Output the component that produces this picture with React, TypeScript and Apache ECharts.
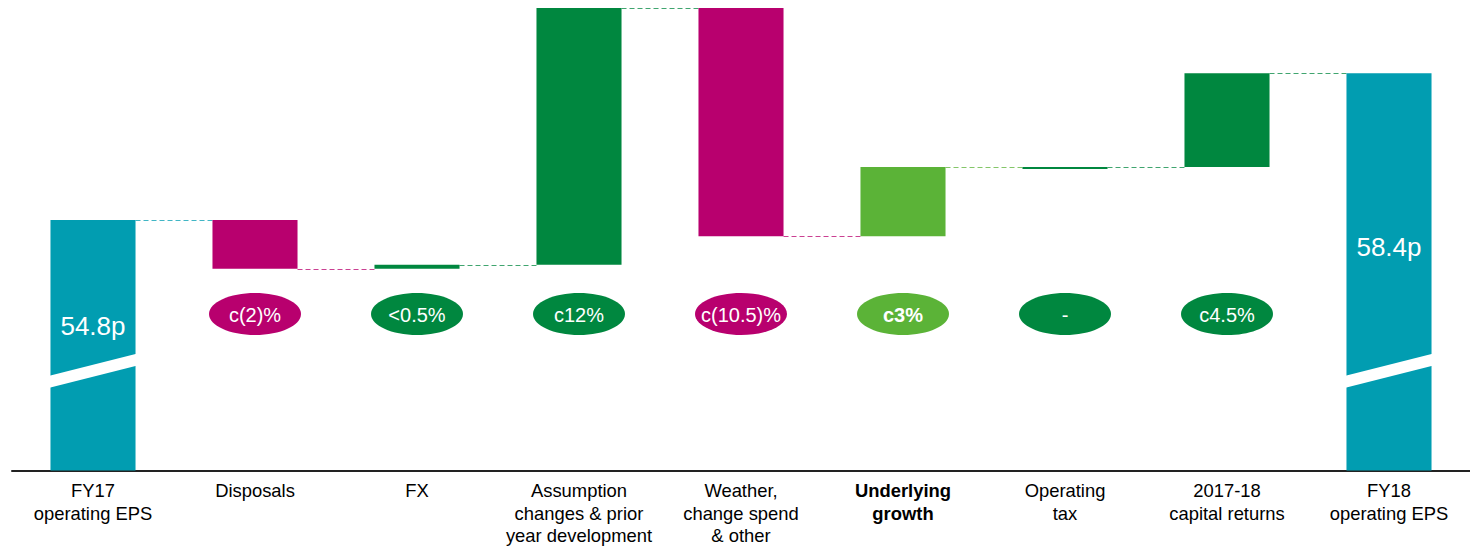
import React, { useEffect, useRef } from "react";
import * as echarts from "echarts";

// EPS bridge, FY17 -> FY18 (pence per share)
const categories = [
  "FY17\noperating EPS",
  "Disposals",
  "FX",
  "Assumption\nchanges & prior\nyear development",
  "Weather,\nchange spend\n& other",
  "Underlying\ngrowth",
  "Operating\ntax",
  "2017-18\ncapital returns",
  "FY18\noperating EPS",
];
const startEps = 54.8;
const endEps = 58.4;
const deltas = [-1.2, 0.1, 6.3, -5.6, 1.7, 0, 2.3];
const badgeLabels = ["c(2)%", "<0.5%", "c12%", "c(10.5)%", "c3%", "-", "c4.5%"];
const boldIndex = 5;

const TEAL = "#019DB1";
const MAGENTA = "#B8006E";
const GREEN = "#00873F";
const LIGHT_GREEN = "#5BB337";
const barColors = [TEAL, MAGENTA, GREEN, GREEN, MAGENTA, LIGHT_GREEN, GREEN, GREEN, TEAL];

// value axis window (the totals are drawn with a broken axis)
const AXIS_MIN = 48.65;
const AXIS_MAX = 60.0;
// diagonal break on the total bars: left / right centre values
const BREAK_LEFT = 50.83;
const BREAK_RIGHT = 51.37;

const SANS = "'Liberation Sans', Arial, sans-serif";

export default function App() {
  const ref = useRef<HTMLDivElement>(null);

  useEffect(() => {
    if (!ref.current) return;
    const chart = echarts.init(ref.current, undefined, { renderer: "svg" });

    // rows: [index, low, high, end level, isTotal]
    const rows: number[][] = [];
    rows.push([0, AXIS_MIN, startEps, startEps, 1]);
    let level = startEps;
    deltas.forEach((d, k) => {
      const next = +(level + d).toFixed(4);
      rows.push([k + 1, Math.min(level, next), Math.max(level, next), next, 0]);
      level = next;
    });
    rows.push([categories.length - 1, AXIS_MIN, endEps, endEps, 1]);

    const renderItem = (params: any, api: any) => {
      const i = api.value(0);
      const low = api.value(1);
      const high = api.value(2);
      const end = api.value(3);
      const isTotal = api.value(4) === 1;
      const color = barColors[i];
      const w = api.size([1, 0])[0] * 0.525;
      const top = api.coord([i, high]);
      const bottom = api.coord([i, low]);
      const cx = top[0];
      const x0 = cx - w / 2;
      const y0 = top[1];
      let h = bottom[1] - top[1];
      if (h < 2) h = 2;
      const children: any[] = [
        { type: "rect", shape: { x: x0, y: y0, width: w, height: h }, style: { fill: color } },
      ];

      if (isTotal) {
        const yl = api.coord([i, BREAK_LEFT])[1];
        const yr = api.coord([i, BREAK_RIGHT])[1];
        const t = 6;
        children.push({
          type: "polygon",
          shape: {
            points: [
              [x0 - 1, yl - t],
              [x0 + w + 1, yr - t],
              [x0 + w + 1, yr + t],
              [x0 - 1, yl + t],
            ],
          },
          style: { fill: "#ffffff" },
        });
        const labelY = i === 0 ? 326 : 247;
        children.push({
          type: "text",
          style: {
            text: `${i === 0 ? startEps : endEps}p`,
            x: cx,
            y: labelY,
            align: "center",
            verticalAlign: "middle",
            fill: "#ffffff",
            fontSize: 26,
            fontFamily: SANS,
          },
        });
      } else {
        const k = i - 1;
        children.push({ type: "ellipse", shape: { cx, cy: 314, rx: 46, ry: 21 }, style: { fill: color } });
        children.push({
          type: "text",
          style: {
            text: badgeLabels[k],
            x: cx,
            y: 315,
            align: "center",
            verticalAlign: "middle",
            fill: "#ffffff",
            fontSize: 20,
            fontWeight: i === boldIndex ? "bold" : "normal",
            fontFamily: SANS,
          },
        });
      }

      // dashed connector to the next bar at the running level
      if (i < categories.length - 1) {
        const a = api.coord([i, end]);
        const b = api.coord([i + 1, end]);
        const y = Math.round(a[1]) + 0.5;
        children.push({
          type: "line",
          shape: { x1: a[0] + w / 2, y1: y, x2: b[0] - w / 2, y2: y },
          style: { stroke: color, lineWidth: 1, lineDash: [5, 3], opacity: 0.75 },
        });
      }

      return { type: "group", children };
    };

    chart.setOption({
      animation: false,
      grid: { left: 12, right: -2, top: 8, bottom: 75, containLabel: false },
      xAxis: {
        type: "category",
        data: categories,
        axisLine: { show: true, lineStyle: { color: "#222222", width: 2 } },
        axisTick: { show: false },
        axisLabel: {
          interval: 0,
          margin: 9,
          color: "#000000",
          fontSize: 18.4,
          lineHeight: 22.5,
          fontFamily: SANS,
          formatter: (v: string, idx: number) =>
            idx === boldIndex
              ? v
                  .split("\n")
                  .map((s) => `{b|${s}}`)
                  .join("\n")
              : v,
          rich: {
            b: { fontWeight: "bold", fontSize: 18.4, lineHeight: 22.5, color: "#000000", fontFamily: SANS },
          },
        },
      },
      yAxis: {
        type: "value",
        min: AXIS_MIN,
        max: AXIS_MAX,
        show: false,
        splitLine: { show: false },
      },
      series: [
        {
          type: "custom",
          renderItem,
          data: rows,
          clip: false,
          encode: { x: 0, y: [1, 2] },
        },
      ],
    });

    return () => chart.dispose();
  }, []);

  return (
    <div
      ref={ref}
      style={{ position: "fixed", left: 0, top: 0, width: 1470, height: 547, background: "#ffffff" }}
    />
  );
}
